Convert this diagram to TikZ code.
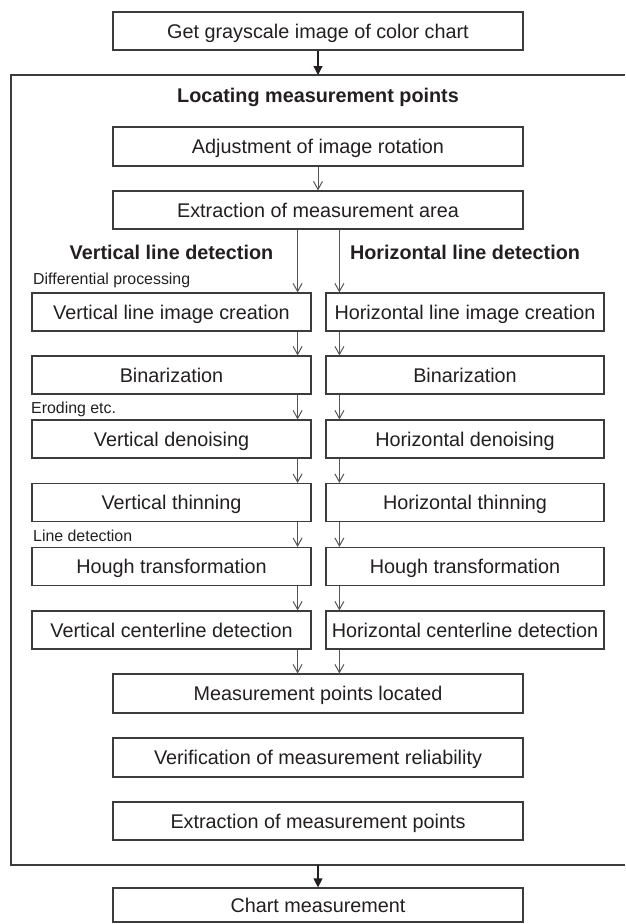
\documentclass[tikz,border=0pt]{standalone}
\usepackage{fontspec}
\setmainfont{Liberation Sans}
\usetikzlibrary{arrows.meta,calc}
\definecolor{ink}{HTML}{231F20}
\definecolor{edge}{HTML}{3C3C3C}
\definecolor{arrowgray}{HTML}{555555}
\tikzset{
  box/.style={draw=edge, line width=1.2pt, fill=white, text=ink, inner sep=0pt,
    font=\fontsize{19.8}{22}\selectfont, text height=16pt, text depth=2pt, minimum height=38pt},
  wide/.style={box, minimum width=410pt},
  col/.style={box, minimum width=279pt},
  heading/.style={text=ink, inner sep=0pt, font=\fontsize{19.8}{22}\selectfont\bfseries, anchor=base},
  note/.style={text=ink, inner sep=0pt, font=\fontsize{15.9}{18}\selectfont, anchor=base west},
  arr/.style={draw=arrowgray, line width=1pt, -{Straight Barb[length=8pt,width=9pt,line width=1pt]}},
  bigarr/.style={draw=ink, line width=1.2pt, -{Triangle[length=9pt,width=9pt]}},
  frame/.style={draw=edge, line width=1.2pt}
}
\begin{document}
\begin{tikzpicture}[x=1pt,y=-1pt]
\useasboundingbox (0,0) rectangle (625,924);
% frame (open on the right)
\coordinate (ftr) at (625,75);
\coordinate (ftl) at (11,75);
\coordinate (fbl) at (11,865);
\coordinate (fbr) at (625,865);
\draw[frame] (ftr) -- (ftl) -- (fbl) -- (fbr);
\coordinate (ftop) at (318,75);
\coordinate (fbot) at (318,865);

\node[wide] (top) at (318,31) {Get grayscale image of color chart};
\node[heading] (title) at (318,102) {Locating measurement points};
\node[wide, minimum height=39pt] (adj) at (318,146.5) {Adjustment of image rotation};
\node[wide] (ext) at (318,210) {Extraction of measurement area};

\node[heading] (vtitle) at (171.5,259) {Vertical line detection};
\node[heading] (htitle) at (465,259) {Horizontal line detection};

\node[note] (n1) at (33,284) {Differential processing};
\node[note] (n2) at (31,413) {Eroding etc.};
\node[note] (n3) at (33,541) {Line detection};

\node[col] (v1) at (171.5,312) {Vertical line image creation};
\node[col] (v2) at (171.5,375) {Binarization};
\node[col] (v3) at (171.5,439) {Vertical denoising};
\node[col] (v4) at (171.5,502.5) {Vertical thinning};
\node[col] (v5) at (171.5,566.5) {Hough transformation};
\node[col] (v6) at (171.5,630) {Vertical centerline detection};

\node[col, minimum width=278pt] (h1) at (465,312) {Horizontal line image creation};
\node[col, minimum width=278pt] (h2) at (465,375) {Binarization};
\node[col, minimum width=278pt] (h3) at (465,439) {Horizontal denoising};
\node[col, minimum width=278pt] (h4) at (465,502.5) {Horizontal thinning};
\node[col, minimum width=278pt] (h5) at (465,566.5) {Hough transformation};
\node[col, minimum width=278pt] (h6) at (465,630) {Horizontal centerline detection};

\node[wide, minimum height=39pt] (mp) at (318,693.5) {Measurement points located};
\node[wide, minimum height=39pt] (ver) at (318,757.5) {Verification of measurement reliability};
\node[wide] (exp) at (318,821) {Extraction of measurement points};
\node[wide, minimum height=34pt] (chart) at (318,905) {Chart measurement};

% connectors
\draw[bigarr] (top.south) -- (ftop);
\draw[bigarr] (fbot) -- (chart.north);
\draw[arr] (adj.south) -- (ext.north);
\draw[arr] ([xshift=-14pt]v1.north east |- ext.south) -- ([xshift=-14pt]v1.north east);
\draw[arr] ([xshift=14pt]h1.north west |- ext.south) -- ([xshift=14pt]h1.north west);
\foreach \a/\b in {1/2,2/3,3/4,4/5,5/6}{
  \draw[arr] ([xshift=-14pt]v\a.south east) -- ([xshift=-14pt]v\b.north east);
  \draw[arr] ([xshift=14pt]h\a.south west) -- ([xshift=14pt]h\b.north west);
}
\draw[arr] ([xshift=-14pt]v6.south east) -- ([xshift=-14pt]v6.south east |- mp.north);
\draw[arr] ([xshift=14pt]h6.south west) -- ([xshift=14pt]h6.south west |- mp.north);
\end{tikzpicture}
\end{document}
